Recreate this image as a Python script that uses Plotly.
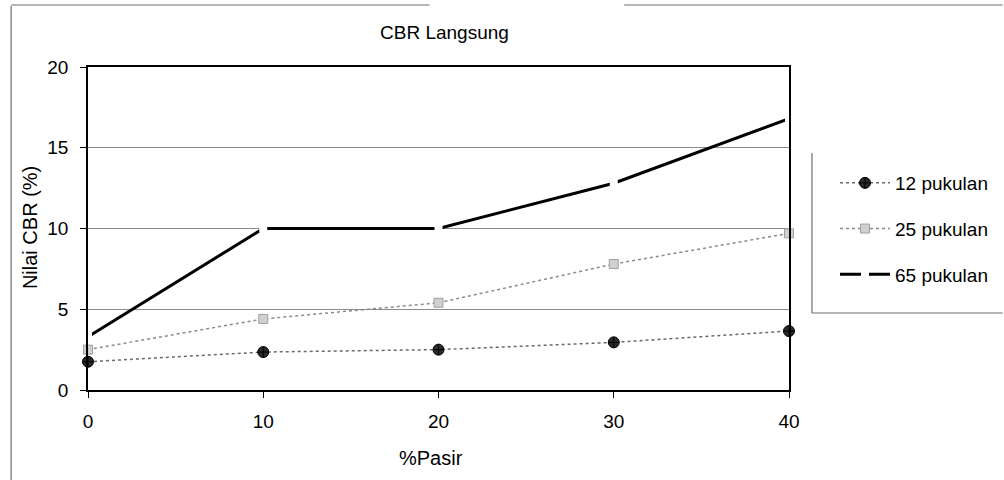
import plotly.graph_objects as go

# Sand content (%) and CBR values for each compaction energy
pasir = [0, 10, 20, 30, 40]
cbr_12 = [1.75, 2.35, 2.5, 2.95, 3.65]
cbr_25 = [2.5, 4.4, 5.4, 7.8, 9.7]
cbr_65 = [3.3, 10.0, 10.0, 12.8, 16.8]

FONT = "Liberation Sans, Arial, sans-serif"

# plot-area geometry in pixels (figure is 1004 x 480)
L, R, T, B = 88, 790, 67, 390


def px(x):
    return (x - L) / (R - L)


def py(y):
    return (B - y) / (B - T)


fig = go.Figure()

fig.add_trace(go.Scatter(
    x=pasir, y=cbr_12, name="12 pukulan", mode="lines+markers",
    legendgroup="a",
    line=dict(color="#6a6a6a", width=1.5, dash="dot"),
    marker=dict(symbol="circle-cross", size=11, color="#2a2a2a",
                line=dict(color="#000000", width=1)),
    cliponaxis=False,
))
fig.add_trace(go.Scatter(
    x=pasir, y=cbr_25, name="25 pukulan", mode="lines+markers",
    legendgroup="b",
    line=dict(color="#8a8a8a", width=1.5, dash="dot"),
    marker=dict(symbol="square", size=9, color="#d0d0d0",
                line=dict(color="#a0a0a0", width=1)),
    cliponaxis=False,
))
fig.add_trace(go.Scatter(
    x=pasir, y=cbr_65, name="65 pukulan", mode="lines+markers",
    legendgroup="c",
    line=dict(color="#000000", width=3),
    marker=dict(symbol="square", size=8, color="#ffffff",
                line=dict(width=0)),
    cliponaxis=False,
))

axis_font = dict(family=FONT, size=19, color="#000000")

fig.update_xaxes(
    range=[0, 40], tickvals=pasir, ticks="outside", ticklen=6,
    tickcolor="#000000", showline=True, linecolor="#000000", linewidth=1.5,
    mirror=True, showgrid=False, zeroline=False, tickfont=axis_font,
    ticklabelstandoff=7,
)
fig.update_yaxes(
    range=[0, 20], tickvals=[0, 5, 10, 15, 20], ticks="outside", ticklen=6,
    tickcolor="#000000", showline=True, linecolor="#000000", linewidth=1.5,
    mirror=True, showgrid=True, gridcolor="#8c8c8c", gridwidth=1,
    zeroline=False, tickfont=axis_font, ticklabelstandoff=8,
)

annotations = [
    dict(text="CBR Langsung", x=px(445), y=py(33), xref="paper", yref="paper",
         showarrow=False, xanchor="center", yanchor="middle",
         font=dict(family=FONT, size=19, color="#000000")),
    dict(text="%Pasir", x=px(431), y=py(458), xref="paper", yref="paper",
         showarrow=False, xanchor="center", yanchor="middle",
         font=dict(family=FONT, size=20, color="#000000")),
    dict(text="Nilai CBR (%)", x=px(30), y=py(228), xref="paper", yref="paper",
         showarrow=False, xanchor="center", yanchor="middle", textangle=-90,
         font=dict(family=FONT, size=20, color="#000000")),
]

line_style = dict(color="#6e6e6e", width=1.2)
shapes = [
    # chart-area frame
    dict(type="line", xref="paper", yref="paper", x0=px(11), x1=px(11),
         y0=py(6), y1=py(480), line=line_style),
    dict(type="line", xref="paper", yref="paper", x0=px(11), x1=px(430),
         y0=py(5), y1=py(5), line=line_style),
    dict(type="line", xref="paper", yref="paper", x0=px(625), x1=px(1004),
         y0=py(5), y1=py(5), line=line_style),
    # legend frame
    dict(type="line", xref="paper", yref="paper", x0=px(813), x1=px(813),
         y0=py(153), y1=py(313), line=line_style),
    dict(type="line", xref="paper", yref="paper", x0=px(813), x1=px(1004),
         y0=py(313), y1=py(313), line=line_style),
]

fig.update_layout(
    width=1004, height=480,
    margin=dict(l=L, r=1004 - R, t=T, b=480 - B),
    paper_bgcolor="#ffffff", plot_bgcolor="#ffffff",
    font=dict(family=FONT, color="#000000"),
    showlegend=True,
    legend=dict(
        x=px(835), y=py(164), xanchor="left", yanchor="top",
        font=dict(family=FONT, size=19, color="#000000"),
        bgcolor="rgba(0,0,0,0)", borderwidth=0,
        tracegroupgap=18, itemwidth=50,
    ),
    annotations=annotations,
    shapes=shapes,
)

fig.write_html("out.html")
